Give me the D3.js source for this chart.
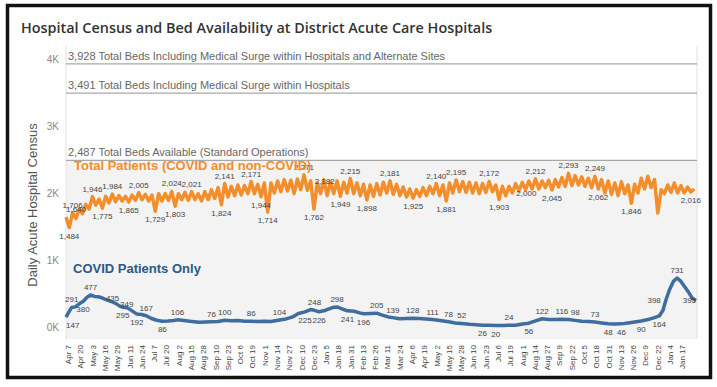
<!DOCTYPE html>
<html>
<head>
<meta charset="utf-8">
<script src="https://cdn.jsdelivr.net/npm/d3@7"></script>
<style>
  body { margin: 0; background: #fff; }
  svg text { font-family: "Liberation Sans", Arial, sans-serif; }
</style>
</head>
<body>
<svg id="chart" width="717" height="387"></svg>
<script>
// chart text
const chartTitle = 'Hospital Census and Bed Availability at District Acute Care Hospitals';
const yTitle = 'Daily Acute Hospital Census';
const totalName = 'Total Patients (COVID and non-COVID)';
const covidName = 'COVID Patients Only';

// bed capacity reference lines
const refValues = [3928, 3491, 2487];
const refLabels = [
	'3,928 Total Beds Including Medical Surge within Hospitals and Alternate Sites',
	'3,491 Total Beds Including Medical Surge within Hospitals',
	'2,487 Total Beds Available (Standard Operations)'
];

const yTicks = [0, 1000, 2000, 3000, 4000];

// x ticks: every 13 days from Apr 7 2020
const xTickStart = '2020-04-07';
const xTickStepDays = 13;
const xTickCount = 51;

// total census, read twice a week (weekday high / weekend low) from Apr 5 2020
const totalStart = '2020-04-05';
const totalStepHours = 84;
const totalValues = [
	1640, 1484, 1706, 1620, 1760, 1690, 1830, 1760, 1946, 1820,
	1910, 1775, 1950, 1850, 1984, 1870, 1960, 1880, 1950, 1865,
	1970, 1890, 2005, 1900, 1980, 1880, 1970, 1729, 1990, 1880,
	1990, 1890, 2024, 1803, 1990, 1900, 2010, 1890, 2021, 1900,
	1990, 1880, 2020, 1900, 2050, 1920, 2080, 1824, 2141, 1940,
	2100, 1960, 2120, 1970, 2110, 1990, 2171, 1990, 2130, 1944,
	2150, 1714, 2150, 2000, 2180, 2020, 2200, 2030, 2190, 1990,
	2210, 2050, 2271, 2040, 2182, 1762, 2150, 1990, 2200, 1960,
	2170, 1990, 2180, 1949, 2160, 2000, 2215, 1990, 2150, 1960,
	2130, 1898, 2120, 1950, 2140, 1970, 2160, 2000, 2181, 1980,
	2130, 1960, 2090, 1940, 2060, 1925, 2050, 1950, 2080, 1960,
	2100, 1990, 2140, 1960, 2120, 1881, 2150, 2000, 2195, 2020,
	2170, 2010, 2160, 2000, 2150, 1990, 2140, 2010, 2172, 2020,
	2120, 1903, 2100, 1960, 2100, 2000, 2140, 2030, 2160, 2050,
	2180, 2060, 2212, 2060, 2180, 2080, 2190, 2045, 2200, 2090,
	2230, 2100, 2293, 2110, 2260, 2120, 2240, 2100, 2220, 2080,
	2249, 2062, 2200, 2000, 2180, 1980, 2150, 1960, 2170, 1990,
	2120, 1846, 2130, 2000, 2220, 2060, 2250, 2080, 2200, 1700,
	2050, 1990, 2120, 2010, 2150, 2000, 2110, 2000, 2090, 2016,
	2060
];
const totalLabelIdx = [0, 1, 2, 8, 11, 14, 19, 22, 27, 32, 33, 38, 47, 48, 56, 59, 61,
	72, 74, 75, 83, 86, 91, 98, 105, 112, 115, 118, 128, 131, 135, 142, 147, 152,
	160, 161, 171, 189];

// covid census
const covidDates = [
	'2020-04-05', '2020-04-08', '2020-04-11', '2020-04-15', '2020-04-19', '2020-04-23',
	'2020-04-27', '2020-05-01', '2020-05-05', '2020-05-09', '2020-05-13', '2020-05-18',
	'2020-05-23', '2020-05-28', '2020-06-01', '2020-06-04', '2020-06-09', '2020-06-14',
	'2020-06-19', '2020-06-24', '2020-06-29', '2020-07-04', '2020-07-10', '2020-07-16',
	'2020-07-22', '2020-07-28', '2020-08-01', '2020-08-08', '2020-08-16', '2020-08-24',
	'2020-09-06', '2020-09-13', '2020-09-20', '2020-09-27', '2020-10-04', '2020-10-11',
	'2020-10-18', '2020-10-25', '2020-11-01', '2020-11-08', '2020-11-17', '2020-11-24',
	'2020-12-01', '2020-12-07', '2020-12-14', '2020-12-20', '2020-12-24', '2020-12-29',
	'2021-01-05', '2021-01-12', '2021-01-17', '2021-01-24', '2021-01-28', '2021-02-04',
	'2021-02-10', '2021-02-14', '2021-02-21', '2021-02-28', '2021-03-05', '2021-03-12',
	'2021-03-17', '2021-03-24', '2021-03-31', '2021-04-07', '2021-04-14', '2021-04-21',
	'2021-04-28', '2021-05-06', '2021-05-15', '2021-05-22', '2021-05-29', '2021-06-06',
	'2021-06-13', '2021-06-20', '2021-06-27', '2021-07-04', '2021-07-11', '2021-07-18',
	'2021-07-25', '2021-08-01', '2021-08-08', '2021-08-15', '2021-08-22', '2021-08-29',
	'2021-09-05', '2021-09-12', '2021-09-19', '2021-09-26', '2021-10-03', '2021-10-10',
	'2021-10-17', '2021-10-24', '2021-10-31', '2021-11-07', '2021-11-14', '2021-11-21',
	'2021-11-28', '2021-12-05', '2021-12-12', '2021-12-19', '2021-12-24', '2021-12-28',
	'2021-12-31', '2022-01-04', '2022-01-08', '2022-01-12', '2022-01-16', '2022-01-20',
	'2022-01-24', '2022-01-28', '2022-02-01'
];
const covidValues = [
	147, 220, 291, 300, 345, 380,
	440, 477, 455, 450, 435, 405,
	380, 349, 310, 295, 285, 240,
	192, 185, 167, 130, 100, 86,
	88, 95, 106, 95, 82, 70,
	76, 80, 100, 92, 95, 84,
	86, 82, 85, 80, 104, 120,
	150, 200, 225, 260, 248, 226,
	250, 290, 298, 260, 241, 235,
	210, 196, 200, 205, 180, 150,
	139, 122, 125, 128, 125, 118,
	111, 95, 78, 58, 52, 40,
	32, 26, 24, 20, 22, 24,
	25, 45, 56, 90, 122, 110,
	112, 116, 110, 98, 84, 80,
	73, 60, 48, 45, 46, 60,
	75, 90, 110, 140, 164, 250,
	398, 560, 680, 731, 680, 600,
	520, 430, 395
];
const covidLabelDates = [
	'2020-04-05', '2020-04-11', '2020-04-23', '2020-05-01', '2020-05-13', '2020-05-28',
	'2020-06-04', '2020-06-19', '2020-06-29', '2020-07-16', '2020-08-01', '2020-09-06',
	'2020-09-20', '2020-10-18', '2020-11-17', '2020-12-14', '2020-12-24', '2020-12-29',
	'2021-01-17', '2021-01-28', '2021-02-14', '2021-02-28', '2021-03-17', '2021-04-07',
	'2021-04-28', '2021-05-15', '2021-05-29', '2021-06-20', '2021-07-04', '2021-07-18',
	'2021-08-08', '2021-08-22', '2021-09-12', '2021-09-26', '2021-10-17', '2021-10-31',
	'2021-11-14', '2021-12-05', '2021-12-24', '2021-12-31', '2022-01-12', '2022-02-01'
];

const orange = '#f28e2b';
const blue = '#3f6d9f';

const W = 717, H = 387;
const margin = {top: 46, right: 20, bottom: 48, left: 66};

const parse = d3.timeParse('%Y-%m-%d');
const fmt = d3.format(',');

const svg = d3.select('#chart');

// frame
svg.append('rect')
	.attr('x', 7.5).attr('y', 5.5)
	.attr('width', 703).attr('height', 372)
	.attr('fill', '#fff')
	.attr('stroke', '#111')
	.attr('stroke-width', 3.5);

svg.append('text')
	.attr('x', 21).attr('y', 33)
	.attr('fill', '#333')
	.style('font-family', '"Open Sans", sans-serif')
	.style('font-weight', 600)
	.style('font-size', '14.4px')
	.text(chartTitle);

const x = d3.scaleTime()
	.domain([parse('2020-04-05'), parse('2022-02-02')])
	.range([margin.left, W - margin.right]);

const y = d3.scaleLinear()
	.domain([-180, 4195])
	.range([H - margin.bottom, margin.top]);

// shaded band below standard capacity
svg.append('rect')
	.attr('x', x.range()[0])
	.attr('y', y(refValues[2]))
	.attr('width', x.range()[1] - x.range()[0])
	.attr('height', y.range()[0] - y(refValues[2]))
	.attr('fill', '#f3f3f3');

svg.selectAll('.edge')
	.data(x.range())
	.join('line')
	.attr('class', 'edge')
	.attr('x1', d => d).attr('x2', d => d)
	.attr('y1', y.range()[1]).attr('y2', y.range()[0])
	.attr('stroke', '#e0e0e0');

// reference lines
const refs = svg.append('g');
refs.selectAll('line')
	.data(refValues)
	.join('line')
	.attr('x1', x.range()[0]).attr('x2', x.range()[1])
	.attr('y1', d => y(d)).attr('y2', d => y(d))
	.attr('stroke', '#a8a8a8')
	.attr('stroke-width', 1.3);
refs.selectAll('text')
	.data(refValues)
	.join('text')
	.attr('x', x.range()[0] + 2)
	.attr('y', d => y(d) - 4)
	.attr('fill', '#666')
	.style('font-size', '11px')
	.text((d, i) => refLabels[i]);

// axes
const yAxis = svg.append('g')
	.attr('transform', `translate(${margin.left},0)`)
	.call(d3.axisLeft(y)
		.tickValues(yTicks)
		.tickFormat(d => d / 1000 + 'K')
		.tickSize(0)
		.tickPadding(7));
yAxis.select('.domain').remove();
yAxis.selectAll('text')
	.attr('fill', '#888')
	.style('font-size', '10px');

const xTickDates = d3.range(xTickCount).map(i => d3.timeDay.offset(parse(xTickStart), i * xTickStepDays));
const xAxis = svg.append('g')
	.attr('transform', `translate(0,${H - margin.bottom})`)
	.call(d3.axisBottom(x)
		.tickValues(xTickDates)
		.tickFormat(d3.timeFormat('%b %-d'))
		.tickSize(0));
xAxis.select('.domain').remove();
xAxis.selectAll('text')
	.attr('transform', 'rotate(-90)')
	.attr('x', -6)
	.attr('y', 0)
	.attr('dy', '0.35em')
	.attr('fill', '#444')
	.style('text-anchor', 'end')
	.style('font-size', '8px');

svg.append('text')
	.attr('transform', `translate(37,205) rotate(-90)`)
	.attr('text-anchor', 'middle')
	.attr('fill', '#555')
	.style('font-size', '13px')
	.text(yTitle);

// series
const totalData = totalValues.map((v, i) => ({
	date: d3.timeHour.offset(parse(totalStart), i * totalStepHours),
	value: v
}));
const covidData = covidDates.map((d, i) => ({date: parse(d), value: covidValues[i]}));

const line = d3.line()
	.x(d => x(d.date))
	.y(d => y(d.value));

svg.append('path')
	.datum(totalData)
	.attr('d', line)
	.attr('fill', 'none')
	.attr('stroke', orange)
	.attr('stroke-width', 3.5)
	.attr('stroke-linejoin', 'round');

svg.append('path')
	.datum(covidData)
	.attr('d', line)
	.attr('fill', 'none')
	.attr('stroke', blue)
	.attr('stroke-width', 3.5)
	.attr('stroke-linejoin', 'round');

// value labels: above a point that sits higher than its neighbours, below otherwise,
// left of the line where it climbs steeply; pushed to the right if it hits the previous label
function drawLabels(data, idx) {
	const g = svg.append('g');
	let prevBox = null;
	const hits = (a, b) => b && a.x < b.x + b.width && b.x < a.x + a.width
		&& a.y < b.y + b.height && b.y < a.y + a.height;

	idx.forEach(i => {
		const p = data[i], prev = data[i - 1], next = data[i + 1];
		const px = x(p.date), py = y(p.value);
		const below = prev && next ? p.value < (prev.value + next.value) / 2 : next && p.value < next.value;
		let pos = {x: px, y: below ? py + 11 : py - 5, anchor: 'middle'};
		if (!prev) pos.anchor = 'start';
		if (!next) pos = {x: px, y: py + 3, anchor: 'end'};
		else if (prev && next.value - prev.value > 200) pos = {x: px - 5, y: py + 3, anchor: 'end'};

		const t = g.append('text')
			.attr('x', pos.x)
			.attr('y', pos.y)
			.attr('text-anchor', pos.anchor)
			.attr('fill', '#444')
			.style('font-size', '8px')
			.text(fmt(p.value));

		if (hits(t.node().getBBox(), prevBox)) {
			t.attr('x', px + 4).attr('y', py + 3).attr('text-anchor', 'start');
		}
		prevBox = t.node().getBBox();
	});
}

drawLabels(totalData, totalLabelIdx);
drawLabels(covidData, covidLabelDates.map(d => covidDates.indexOf(d)));

// series names
svg.append('text')
	.attr('x', 74).attr('y', 170)
	.attr('fill', orange)
	.style('font-size', '13px')
	.style('font-weight', 'bold')
	.text(totalName);

svg.append('text')
	.attr('x', 73).attr('y', 273)
	.attr('fill', '#2c5985')
	.style('font-size', '13px')
	.style('font-weight', 'bold')
	.text(covidName);
</script>
</body>
</html>
